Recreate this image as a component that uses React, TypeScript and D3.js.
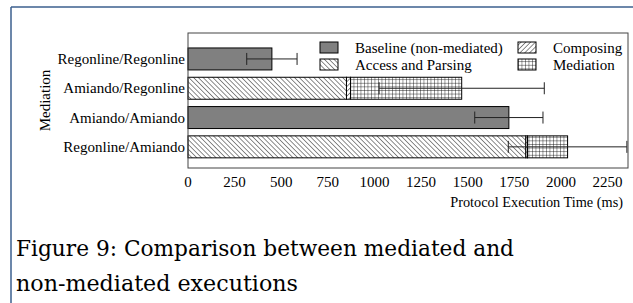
import React from "react";
import * as d3 from "d3";

// execution times (ms)
const categories = [
  "Regonline/Regonline",
  "Amiando/Regonline",
  "Amiando/Amiando",
  "Regonline/Amiando",
];
const baseline = [450, 0, 1721, 0];
const accessParsing = [0, 850, 0, 1812];
const composing = [0, 22, 0, 9];
const mediation = [0, 596, 0, 215];
const errors = [135, 443, 183, 318];
const xTicks = [0, 250, 500, 750, 1000, 1250, 1500, 1750, 2000, 2250];

const seriesNames = ["Baseline (non-mediated)", "Access and Parsing", "Composing", "Mediation"];
const fills = ["#808080", "url(#hatchBack)", "url(#hatchFwd)", "url(#grid)"];

const W = 633;
const H = 303;
const left = 188;
const right = 628;
const top = 33;
const bottom = 168;
const serif = { fontFamily: "Liberation Serif, Times New Roman, Times, serif" };
const capFont = { fontFamily: "DejaVu Serif, serif" };

export default function App() {
  const x = d3.scaleLinear().domain([0, 2360]).range([left, right]);
  const y = d3.scaleBand<string>().domain(categories).range([44.3, 161.5]).paddingInner(0.25).paddingOuter(0.125);

  const series = [baseline, accessParsing, composing, mediation];
  const rows = categories.map((c, i) => {
    let acc = 0;
    const segs = series.map((s, k) => {
      const s0 = acc;
      acc += s[i];
      return { k, s0, s1: acc };
    }).filter((d) => d.s1 > d.s0);
    return { c, segs, total: acc, err: errors[i] };
  });

  const bw = y.bandwidth();

  return (
    <svg width={W} height={H} style={{ position: "absolute", left: 0, top: 0, background: "#fff" }}>
      <defs>
        <pattern id="hatchBack" width="3.4" height="3.4" patternUnits="userSpaceOnUse" patternTransform="rotate(-45)">
          <rect width="3.4" height="3.4" fill="#fff" />
          <line x1="0" y1="0" x2="0" y2="3.4" stroke="#000" strokeWidth="0.9" />
        </pattern>
        <pattern id="hatchFwd" width="3.4" height="3.4" patternUnits="userSpaceOnUse" patternTransform="rotate(45)">
          <rect width="3.4" height="3.4" fill="#fff" />
          <line x1="0" y1="0" x2="0" y2="3.4" stroke="#000" strokeWidth="0.9" />
        </pattern>
        <pattern id="grid" width="3.5" height="3.6" patternUnits="userSpaceOnUse">
          <rect width="3.5" height="3.6" fill="#fff" />
          <line x1="0" y1="0" x2="0" y2="3.6" stroke="#000" strokeWidth="0.8" />
          <line x1="0" y1="0" x2="3.5" y2="0" stroke="#000" strokeWidth="0.8" />
        </pattern>
      </defs>

      {/* page frame */}
      <line x1={11} y1={7} x2={W} y2={7} stroke="#3b5f8e" strokeWidth={1.5} />
      <line x1={11} y1={7} x2={11} y2={H} stroke="#3b5f8e" strokeWidth={1.5} />

      {/* bars */}
      {rows.map((r) => (
        <g key={r.c}>
          {r.segs.map((s) => (
            <rect
              key={s.k}
              x={x(s.s0)}
              y={y(r.c)}
              width={x(s.s1) - x(s.s0)}
              height={bw}
              fill={fills[s.k]}
              stroke="#000"
              strokeWidth={1}
            />
          ))}
          <g stroke="#222" strokeWidth={1}>
            <line x1={x(r.total - r.err)} x2={x(r.total + r.err)} y1={y(r.c)! + bw / 2} y2={y(r.c)! + bw / 2} />
            <line x1={x(r.total - r.err)} x2={x(r.total - r.err)} y1={y(r.c)! + bw / 2 - 6} y2={y(r.c)! + bw / 2 + 6} />
            <line x1={x(r.total + r.err)} x2={x(r.total + r.err)} y1={y(r.c)! + bw / 2 - 6} y2={y(r.c)! + bw / 2 + 6} />
          </g>
          <text x={left - 3} y={y(r.c)! + bw / 2 + 5} textAnchor="end" style={serif} fontSize={15}>
            {r.c}
          </text>
        </g>
      ))}

      {/* plot frame */}
      <rect x={left} y={top} width={right - left} height={bottom - top} fill="none" stroke="#444" strokeWidth={1} />

      {/* x tick labels */}
      {xTicks.map((t) => (
        <text key={t} x={x(t)} y={187} textAnchor="middle" style={serif} fontSize={15}>
          {t}
        </text>
      ))}
      <text x={623} y={207} textAnchor="end" style={serif} fontSize={14.3}>
        Protocol Execution Time (ms)
      </text>
      <text transform={`translate(50,${(top + bottom) / 2}) rotate(-90)`} textAnchor="middle" style={serif} fontSize={15}>
        Mediation
      </text>

      {/* legend */}
      {seriesNames.map((n, k) => {
        const lx = k < 2 ? 320 : 518;
        const ly = k % 2 === 0 ? 42 : 59;
        return (
          <g key={n}>
            <rect x={lx} y={ly} width={18} height={11} fill={fills[k]} stroke="#000" strokeWidth={1} />
            <text x={lx + 35} y={ly + 11} style={serif} fontSize={15}>
              {n}
            </text>
          </g>
        );
      })}

      {/* caption */}
      <text x={16} y={256} style={capFont} fontSize={22.5} textLength={498} lengthAdjust="spacingAndGlyphs">
        Figure 9: Comparison between mediated and
      </text>
      <text x={16} y={291} style={capFont} fontSize={22.5} textLength={282} lengthAdjust="spacingAndGlyphs">
        non-mediated executions
      </text>
    </svg>
  );
}
